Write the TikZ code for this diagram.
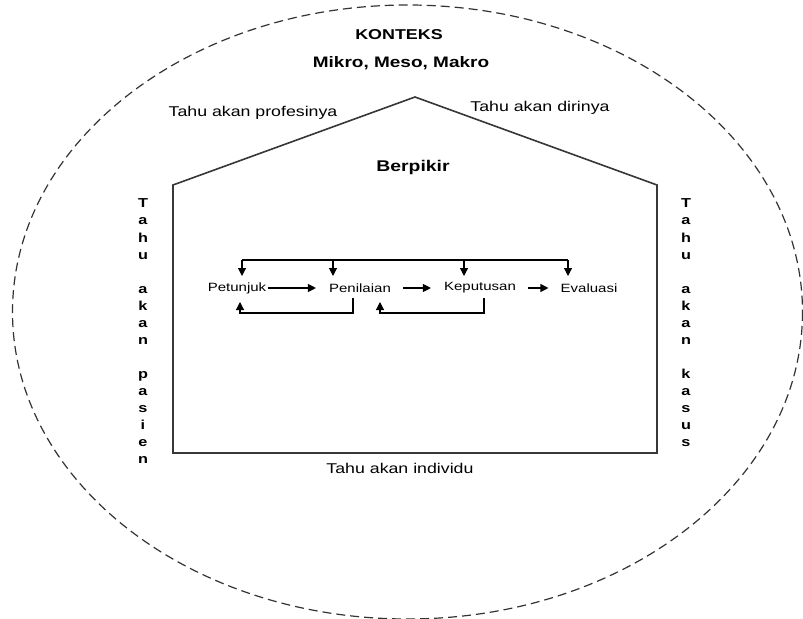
\documentclass[tikz,border=0pt]{standalone}
\usepackage{fontspec}
\setmainfont{Liberation Sans}[FakeStretch=1.25]
\usetikzlibrary{arrows.meta}
\begin{document}
\begin{tikzpicture}[x=1bp,y=-1bp,
  house/.style={draw=black!78,line width=1.6bp,line join=miter},
  ctx/.style={draw=black!80,line width=1.2bp,dash pattern=on 9bp off 5bp},
  lbl/.style={inner sep=0pt,font=\fontsize{14.2bp}{16bp}\selectfont},
  blbl/.style={inner sep=0pt,font=\fontsize{14.3bp}{16bp}\selectfont\bfseries},
  flow/.style={inner sep=2bp,font=\fontsize{12bp}{13bp}\selectfont},
  vlet/.style={inner sep=0pt,anchor=base,font=\fontsize{13bp}{15bp}\selectfont\bfseries},
  arr/.style={line width=1.1bp,-{Triangle[length=8bp,width=8bp]}},
  ln/.style={line width=1.1bp}]
\useasboundingbox (0,0) rectangle (803,619);
\fill[white] (0,0) rectangle (803,619);
% context ellipse
\draw[ctx] (407.5,312) ellipse [x radius=395, y radius=307];
% house
\draw[house] (173,185) -- (415,97) -- (657,185) -- (657,453) -- (173,453) -- cycle;
% labels
\node[blbl] (konteks) at (399,35) {KONTEKS};
\node[blbl,font=\fontsize{15.2bp}{16bp}\selectfont\bfseries] (level) at (401,63) {Mikro, Meso, Makro};
\node[lbl] (prof) at (253,113) {Tahu akan profesinya};
\node[lbl] (diri) at (540,108) {Tahu akan dirinya};
\node[blbl,font=\fontsize{15.5bp}{16bp}\selectfont\bfseries] (berpikir) at (413,167) {Berpikir};
\node[lbl] (indiv) at (400,468) {Tahu akan individu};
% vertical texts
\foreach \ch [count=\i] in {T,a,h,u,{},a,k,a,n,{},p,a,s,i,e,n}
  \node[vlet] (L\i) at (143,{208+17*(\i-1)}) {\ch};
\foreach \ch [count=\i] in {T,a,h,u,{},a,k,a,n,{},k,a,s,u,s}
  \node[vlet] (R\i) at (686,{208+17*(\i-1)}) {\ch};
% flow
\node[flow] (pet) at (237,288) {Petunjuk};
\node[flow] (pen) at (360,288) {Penilaian};
\node[flow] (kep) at (480,288) {Keputusan};
\node[flow] (eva) at (589,288) {Evaluasi};
\draw[arr,shorten >=11bp] (pet.east) -- (pen.west);
\draw[arr,shorten <=10bp,shorten >=11bp] (pen.east) -- (kep.west);
\draw[arr,shorten <=10bp,shorten >=10bp] (kep.east) -- (eva.west);
% top distribution line
\coordinate (t1) at (242,260);
\coordinate (t2) at (333,260);
\coordinate (t3) at (464,260);
\coordinate (t4) at (568,260);
\coordinate (d1) at (242,276);
\coordinate (d2) at (333,276);
\coordinate (d3) at (464,276);
\coordinate (d4) at (568,276);
\draw[ln] (t1) -- (t4);
\draw[arr] (t1) -- (d1);
\draw[arr] (t2) -- (d2);
\draw[arr] (t3) -- (d3);
\draw[arr] (t4) -- (d4);
% feedback loops
\coordinate (f1s) at (353,298);
\coordinate (f1b) at (353,313);
\coordinate (f1c) at (240,313);
\coordinate (f1e) at (240,302);
\coordinate (f2s) at (484,298);
\coordinate (f2b) at (484,313);
\coordinate (f2c) at (380,313);
\coordinate (f2e) at (380,302);
\draw[arr] (f1s) -- (f1b) -- (f1c) -- (f1e);
\draw[arr] (f2s) -- (f2b) -- (f2c) -- (f2e);
\end{tikzpicture}
\end{document}
